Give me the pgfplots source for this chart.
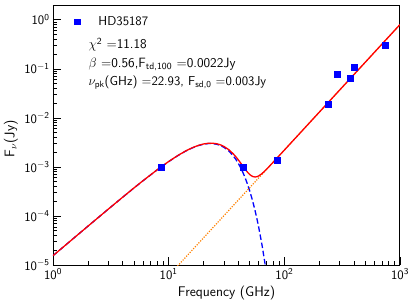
\RequirePackage{fix-cm}
\documentclass[border=0pt]{standalone}
\usepackage{pgfplots}
\pgfplotsset{compat=1.18}
\usepackage{amsmath}
\begin{document}
\begin{tikzpicture}
\begin{axis}[
  scale only axis, width=347bp, height=260bp,
  xmode=log, ymode=log,
  xmin=1, xmax=1000, ymin=1e-5, ymax=2,
  axis line style={line width=1pt},
  tick align=inside, tick pos=left,
  major tick length=8bp, minor tick length=4.5bp,
  every tick/.style={black, line width=0.6pt},
  ticklabel style={font=\fontsize{13}{15}\selectfont\sffamily},
  xtick={1,10,100,1000},
  xticklabels={\textsf{10}$^{\mathsf{0}}$,\textsf{10}$^{\mathsf{1}}$,\textsf{10}$^{\mathsf{2}}$,\textsf{10}$^{\mathsf{3}}$},
  minor xtick={2,3,4,5,6,7,8,9,20,30,40,50,60,70,80,90,200,300,400,500,600,700,800,900},
  ytick={1e-5,1e-4,1e-3,1e-2,1e-1,1},
  yticklabels={\textsf{10}$^{\mathsf{-5}}$,\textsf{10}$^{\mathsf{-4}}$,\textsf{10}$^{\mathsf{-3}}$,\textsf{10}$^{\mathsf{-2}}$,\textsf{10}$^{\mathsf{-1}}$,\textsf{10}$^{\mathsf{0}}$},
  minor ytick={2e-5,3e-5,4e-5,5e-5,6e-5,7e-5,8e-5,9e-5,2e-4,3e-4,4e-4,5e-4,6e-4,7e-4,8e-4,9e-4,2e-3,3e-3,4e-3,5e-3,6e-3,7e-3,8e-3,9e-3,2e-2,3e-2,4e-2,5e-2,6e-2,7e-2,8e-2,9e-2,0.2,0.3,0.4,0.5,0.6,0.7,0.8,0.9,2},
  xlabel={\textsf{Frequency (GHz)}},
  ylabel={\textsf{F}$_{\nu}$\textsf{(Jy)}},
  label style={font=\fontsize{14}{16}\selectfont\sffamily},
  xlabel style={at={(axis description cs:0.5,-0.123)}, anchor=base},
  ylabel style={at={(axis description cs:-0.121,0.485)}, anchor=center},
  legend style={draw=none, fill=none, at={(rel axis cs:0.036,0.973)}, anchor=north west},
  legend image code/.code={\path[draw=none,fill=none] (0cm,-0.1cm) rectangle (0.98cm,0.1cm); \draw[#1, mark size=2.7pt] plot coordinates {(0.3cm,0cm)};},
]
\addplot[blue, dash pattern=on 5.5pt off 2.8pt, line width=1.3pt, forget plot] coordinates {
(1,1.548e-5) (1.5,3.475e-5) (2,6.157e-5) (3,1.372e-4) (4,2.407e-4) (5,3.698e-4) (6,5.214e-4) (8,8.789e-4) (10,1.2824e-3) (12,1.6984e-3) (14,2.094e-3) (16,2.440e-3) (18,2.7136e-3) (20,2.899e-3) (22,2.990e-3) (24,2.987e-3) (26,2.8986e-3) (28,2.7375e-3) (30,2.5202e-3) (33,2.1287e-3) (36,1.7089e-3) (38,1.437e-3) (40,1.1833e-3) (42,9.551e-4) (44,7.556e-4) (46,5.866e-4) (48,4.466e-4) (50,3.3385e-4) (52,2.449e-4) (54,1.7653e-4) (56,1.2488e-4) (58,8.686e-5) (60,5.932e-5) (64,2.627e-5) (68,1.088e-5) (70,6.825e-6) (72,4.204e-6)
};
\addplot[orange, dash pattern=on 1.2pt off 1.4pt, line width=1.2pt, forget plot] coordinates {
(10,6.06e-6) (20,3.573e-5) (30,1.0088e-4) (50,3.7308e-4) (100,2.2e-3) (200,1.2974e-2) (500,0.13546) (1000,0.7988)
};
\addplot[red, line width=1.3pt, forget plot] coordinates {
(1,1.548e-5) (1.5,3.475e-5) (2,6.157e-5) (3,1.372e-4) (4,2.407e-4) (5,3.708e-4) (6,5.230e-4) (8,8.823e-4) (10,1.2885e-3) (12,1.7081e-3) (14,2.1083e-3) (16,2.4602e-3) (18,2.7409e-3) (20,2.9347e-3) (22,3.0356e-3) (24,3.044e-3) (26,2.9685e-3) (28,2.8221e-3) (30,2.6211e-3) (33,2.2575e-3) (36,1.8698e-3) (38,1.6218e-3) (40,1.394e-3) (42,1.1938e-3) (44,1.0246e-3) (46,8.880e-4) (48,7.827e-4) (50,7.069e-4) (52,6.574e-4) (54,6.307e-4) (56,6.236e-4) (58,6.321e-4) (60,6.543e-4) (64,7.282e-4) (68,8.305e-4) (72,9.528e-4) (80,1.2428e-3) (100,2.2e-3) (150,6.2108e-3) (200,1.2974e-2) (300,3.6639e-2) (500,0.13546) (700,0.32054) (1000,0.7988)
};
\addplot[only marks, mark=square*, mark size=3pt, color=blue,
  error bars/.cd, y dir=both, y explicit, error bar style={blue, line width=1pt}, error mark=none]
  coordinates {
(8.6,1.0e-3) +- (0,1.3e-4)
(44,9.8e-4) +- (0,1.3e-4)
(86.5,1.39e-3) +- (0,1.8e-4)
(241,1.9e-2) +- (0,2.5e-3)
(288,7.8e-2) +- (0,1.0e-2)
(373,6.35e-2) +- (0,8.0e-3)
(404,0.108) +- (0,1.4e-2)
(743,0.31) +- (0,4.0e-2)
};
\addlegendentry{\fontsize{13}{15}\selectfont\sffamily HD35187}
\node[anchor=base west, font=\fontsize{13.5}{15}\selectfont\sffamily, inner sep=0pt] at (rel axis cs:0.102,0.831) {$\chi^{\mathsf{2}}$ =11.18};
\node[anchor=base west, font=\fontsize{13.5}{15}\selectfont\sffamily, inner sep=0pt] at (rel axis cs:0.102,0.760) {$\beta$ =0.56,F\textsubscript{td,100} =0.0022Jy};
\node[anchor=base west, font=\fontsize{13}{15}\selectfont\sffamily, inner sep=0pt] at (rel axis cs:0.102,0.692) {$\nu_{\mathsf{pk}}$(GHz) =22.93, F\textsubscript{sd,0} =0.003Jy};
\coordinate (sw) at (rel axis cs:0,0);
\end{axis}
\pgfresetboundingbox
\path[use as bounding box] (sw) ++(-53bp,-40bp) rectangle ++(415bp,305bp);
\end{tikzpicture}
\end{document}
